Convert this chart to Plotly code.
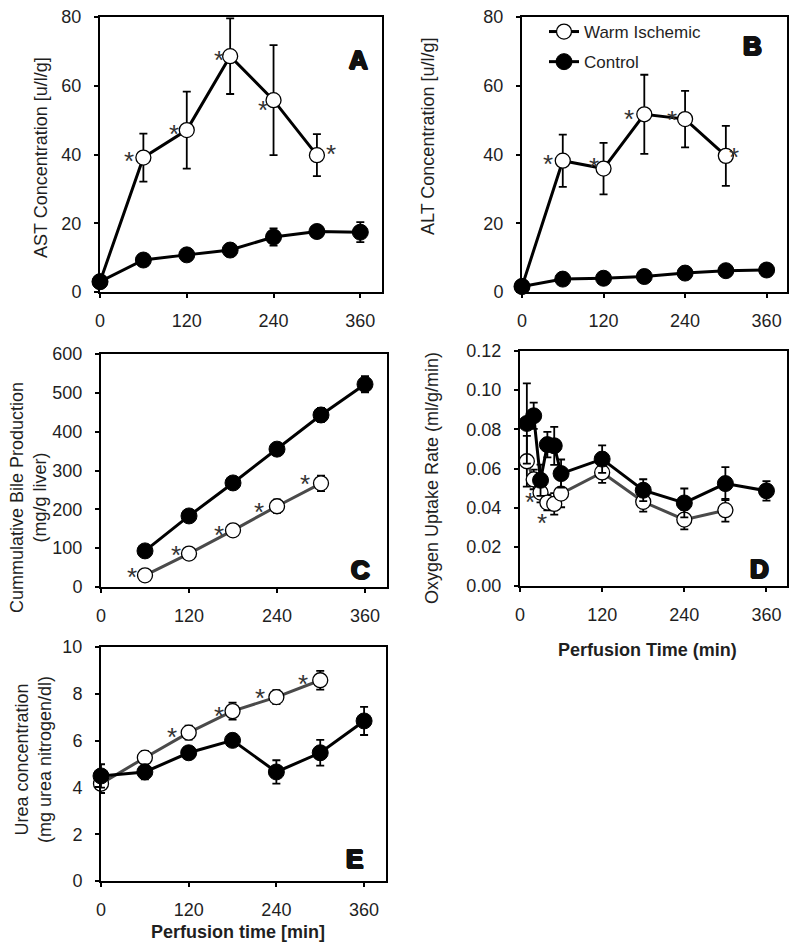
import plotly.graph_objects as go

# ---------------- data ----------------
t_wi = [0, 60, 120, 180, 240, 300]
t_ctrl = [0, 60, 120, 180, 240, 300, 360]

# A: AST
ast_wi = [3.0, 39.1, 47.1, 68.6, 55.8, 39.8]
ast_wi_err = [0.8, 7.0, 11.2, 11.0, 16.0, 6.1]
ast_ctrl = [3.0, 9.3, 10.8, 12.2, 16.0, 17.6, 17.4]
ast_ctrl_err = [0.8, 1.5, 1.5, 1.8, 2.5, 1.5, 2.9]

# B: ALT
alt_wi = [1.6, 38.2, 35.9, 51.7, 50.3, 39.6]
alt_wi_err = [0.5, 7.6, 7.5, 11.5, 8.2, 8.7]
alt_ctrl = [1.6, 3.75, 4.0, 4.5, 5.5, 6.2, 6.4]
alt_ctrl_err = [0.3, 0.5, 0.5, 0.5, 0.6, 0.6, 0.6]

# C: cumulative bile
t_bile_wi = [60, 120, 180, 240, 300]
t_bile_ctrl = [60, 120, 180, 240, 300, 360]
bile_wi = [30, 86, 146, 208, 267]
bile_wi_err = [5, 8, 13, 17, 20]
bile_ctrl = [93, 183, 268, 355, 443, 522]
bile_ctrl_err = [8, 8, 10, 15, 18, 21]

# D: oxygen uptake
t_o2_wi = [10, 20, 30, 40, 50, 60, 120, 180, 240, 300]
t_o2_ctrl = [10, 20, 30, 40, 50, 60, 120, 180, 240, 300, 360]
o2_wi = [0.0637, 0.0544, 0.0477, 0.0426, 0.0419, 0.0472, 0.0580, 0.0430, 0.0339, 0.0387]
o2_wi_err = [0.0130, 0.0050, 0.0050, 0.0040, 0.0055, 0.0070, 0.0053, 0.0050, 0.0050, 0.0058]
o2_ctrl = [0.0830, 0.0869, 0.0540, 0.0722, 0.0716, 0.0574, 0.0648, 0.0489, 0.0424, 0.0523, 0.0486]
o2_ctrl_err = [0.0205, 0.0067, 0.0080, 0.0065, 0.0097, 0.0072, 0.0070, 0.0056, 0.0074, 0.0084, 0.0050]

# E: urea
urea_wi = [4.16, 5.27, 6.34, 7.26, 7.86, 8.58]
urea_wi_err = [0.40, 0.28, 0.30, 0.36, 0.30, 0.40]
urea_ctrl = [4.49, 4.66, 5.48, 6.01, 4.66, 5.48, 6.84]
urea_ctrl_err = [0.50, 0.32, 0.20, 0.20, 0.50, 0.55, 0.60]

# significance markers (times of WI points marked with *)
ast_sig = [60, 120, 180, 240, 300]
alt_sig = [60, 120, 180, 240, 300]
bile_sig = [60, 120, 180, 240, 300]
o2_sig = [20, 30]
urea_sig = [120, 180, 240, 300]

x_ticks = [0, 120, 240, 360]
legend_names = ["Warm Ischemic", "Control"]
panel_letters = ["A", "B", "C", "D", "E"]

# ---------------- styling ----------------
PAGE_OFF = 8          # default body margin of the html page
W, H = 800 - PAGE_OFF, 948 - PAGE_OFF
FONT = "Liberation Sans, Arial, sans-serif"
TXT = "#1f1f1f"
WI_GRAY = "#4a4a4a"


def px_x(p):
    return (p - PAGE_OFF) / W


def px_y(p):
    return 1 - (p - PAGE_OFF) / H


# plot-area pixel boxes in window pixels (left, right, top, bottom)
boxes = {
    1: (100, 382, 17, 292),
    2: (522, 787, 17, 292),
    3: (101, 387, 354, 587),
    4: (520, 787, 351, 586),
    5: (101, 386, 647, 881),
}

fig = go.Figure()


def add_series(k, xs, ys, errs, filled, wi_color, show_legend, name):
    xa = "x" if k == 1 else f"x{k}"
    ya = "y" if k == 1 else f"y{k}"
    if filled:
        marker = dict(symbol="circle", size=16, color="black", line=dict(color="black", width=1))
        line = dict(color="black", width=3)
    else:
        marker = dict(symbol="circle", size=15, color="white", line=dict(color="black", width=1.3))
        line = dict(color=wi_color, width=3)
    fig.add_trace(go.Scatter(
        x=xs, y=ys, mode="lines+markers", name=name,
        xaxis=xa, yaxis=ya, marker=marker, line=line,
        error_y=dict(type="data", array=errs, visible=True, color="black", thickness=1.8, width=4),
        cliponaxis=False, showlegend=show_legend,
        legendgroup=name,
    ))


def add_stars(k, xs, ys, sig, offsets):
    xa = "x" if k == 1 else f"x{k}"
    ya = "y" if k == 1 else f"y{k}"
    for t, (dx, dy) in zip(sig, offsets):
        v = ys[xs.index(t)]
        fig.add_annotation(x=t, y=v, xref=xa, yref=ya, text="*", showarrow=False,
                           xanchor="center", yanchor="middle",
                           xshift=dx, yshift=dy - 6,
                           font=dict(family=FONT, size=26, color="#333333"))


# Panel A
add_series(1, t_wi, ast_wi, ast_wi_err, False, "black", False, legend_names[0])
add_series(1, t_ctrl, ast_ctrl, ast_ctrl_err, True, "black", False, legend_names[1])
add_stars(1, t_wi, ast_wi, ast_sig, [(-14, 3), (-13, 2), (-11, 2), (-11, -4), (14, 7)])

# Panel B (carries the legend)
add_series(2, t_wi, alt_wi, alt_wi_err, False, "black", True, legend_names[0])
add_series(2, t_ctrl, alt_ctrl, alt_ctrl_err, True, "black", True, legend_names[1])
add_stars(2, t_wi, alt_wi, alt_sig, [(-15, 3), (-10, 8), (-15, 1), (-13, 5), (8, 5)])

# Panel C
add_series(3, t_bile_wi, bile_wi, bile_wi_err, False, WI_GRAY, False, legend_names[0])
add_series(3, t_bile_ctrl, bile_ctrl, bile_ctrl_err, True, "black", False, legend_names[1])
add_stars(3, t_bile_wi, bile_wi, bile_sig, [(-13, 4), (-13, 5), (-14, 1), (-18, 0), (-16, 5)])

# Panel D
add_series(4, t_o2_wi, o2_wi, o2_wi_err, False, WI_GRAY, False, legend_names[0])
add_series(4, t_o2_ctrl, o2_ctrl, o2_ctrl_err, True, "black", False, legend_names[1])
add_stars(4, t_o2_wi, o2_wi, o2_sig, [(-4, -17), (1, -24)])

# Panel E
add_series(5, t_wi, urea_wi, urea_wi_err, False, WI_GRAY, False, legend_names[0])
add_series(5, t_ctrl, urea_ctrl, urea_ctrl_err, True, "black", False, legend_names[1])
add_stars(5, t_wi, urea_wi, urea_sig, [(-17, 2), (-14, 1), (-16, 5), (-17, 2)])

# ---------------- axes ----------------
y_specs = {
    1: dict(range=[0, 80], dtick=20, tickformat="d"),
    2: dict(range=[0, 80], dtick=20, tickformat="d"),
    3: dict(range=[0, 600], dtick=100, tickformat="d"),
    4: dict(range=[0, 0.12], dtick=0.02, tickformat=".2f"),
    5: dict(range=[0, 10], dtick=2, tickformat="d"),
}

axis_common = dict(showline=True, linecolor="black", linewidth=2, mirror=True,
                   ticks="outside", ticklen=4, tickwidth=1.5, tickcolor="black",
                   showgrid=False, zeroline=False, automargin=False,
                   ticklabeloverflow="allow",
                   tickfont=dict(family=FONT, size=18, color=TXT))

layout_axes = {}
for k, (l, r, t, b) in boxes.items():
    xs = "xaxis" if k == 1 else f"xaxis{k}"
    ys = "yaxis" if k == 1 else f"yaxis{k}"
    ya = "y" if k == 1 else f"y{k}"
    xa = "x" if k == 1 else f"x{k}"
    layout_axes[xs] = dict(domain=[px_x(l), px_x(r)], anchor=ya, range=[0, 390],
                           tickmode="array", tickvals=x_ticks, ticklabelstandoff=7,
                           **axis_common)
    layout_axes[ys] = dict(domain=[px_y(b), px_y(t)], anchor=xa, tickmode="linear", tick0=0,
                           ticklabelstandoff=9, **y_specs[k], **axis_common)

fig.update_layout(**layout_axes)

# ---------------- titles / labels ----------------
def ann_px(x, y, text, size=18, angle=0, bold=False, family=FONT, color=TXT, shadow=None):
    f = dict(family=family, size=size, color=color)
    if shadow is not None:
        f["shadow"] = shadow
    fig.add_annotation(x=px_x(x), y=px_y(y), xref="paper", yref="paper",
                       text=(f"<b>{text}</b>" if bold else text), showarrow=False,
                       textangle=angle, xanchor="center", yanchor="middle", font=f)


ann_px(41, 158, "AST Concentration [u/l/g]", angle=-90)
ann_px(428, 137, "ALT Concentration [u/l/g]", angle=-90)
ann_px(28, 498, "Cummulative Bile Production<br>(mg/g liver)", angle=-90)
ann_px(432, 478, "Oxygen Uptake Rate (ml/g/min)", angle=-90)
ann_px(33, 760, "Urea concentration<br>(mg urea nitrogen/dl)", angle=-90)
ann_px(647, 650, "Perfusion Time (min)", bold=True)
ann_px(238, 932, "Perfusion time [min]", bold=True)

heavy = "1px 0 0 #111, -1px 0 0 #111, 0 1px 0 #111, 0 -1px 0 #111, 1px 1px 0 #111, -1px -1px 0 #111"
letter_pos = [(358, 60), (752, 46), (360, 570), (759, 569), (354, 859)]
for letter, (lx, ly) in zip(panel_letters, letter_pos):
    ann_px(lx, ly, letter, size=26, bold=True, color="#111111", shadow=heavy)

fig.update_layout(
    width=W, height=H,
    margin=dict(l=0, r=0, t=0, b=0, autoexpand=False),
    paper_bgcolor="white", plot_bgcolor="white",
    showlegend=True,
    legend=dict(x=px_x(544), y=px_y(14), xanchor="left", yanchor="top",
                bgcolor="rgba(0,0,0,0)", borderwidth=0, tracegroupgap=5,
                font=dict(family=FONT, size=17, color=TXT)),
)

fig.write_html("out.html")
